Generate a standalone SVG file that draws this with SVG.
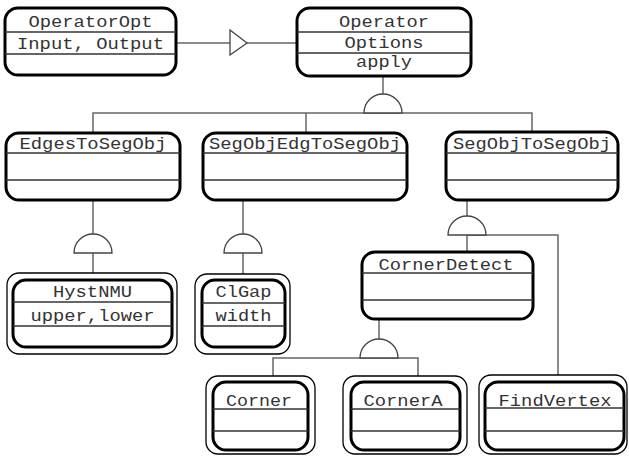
<svg xmlns="http://www.w3.org/2000/svg" width="629" height="456" viewBox="0 0 629 456">
<style>
.box{fill:#fff;stroke:#000;stroke-width:3}
.outer{fill:#fff;stroke:#000;stroke-width:1.3}
.div{stroke:#333;stroke-width:1.3}
.t{font-family:"Liberation Mono","Courier New",monospace;font-size:16.5px;fill:#333;text-anchor:middle}
.c{fill:none;stroke:#666;stroke-width:1.5}
.arc{fill:#fff;stroke:#444;stroke-width:1.3}
</style>
<rect width="629" height="456" fill="#fff"/>
<g id="connectors">
<line class="c" x1="176" y1="43" x2="230" y2="43"/>
<line class="c" x1="247" y1="43" x2="297" y2="43"/>
<polygon class="arc" points="230,30 247,43 230,55"/>
<line class="c" x1="383" y1="76" x2="383" y2="94"/>
<polyline class="c" points="93,133 93,113 532,113 532,132"/>
<line class="c" x1="306" y1="113" x2="306" y2="133"/>
<path class="arc" d="M364,113 A19,19 0 0 1 402,113 Z"/>
<line class="c" x1="93" y1="200" x2="93" y2="235"/>
<line class="c" x1="93" y1="253" x2="93" y2="273"/>
<path class="arc" d="M74,253 A19,19 0 0 1 112,253 Z"/>
<line class="c" x1="243" y1="200" x2="243" y2="235"/>
<line class="c" x1="243" y1="253" x2="243" y2="274"/>
<path class="arc" d="M224,253 A19,19 0 0 1 262,253 Z"/>
<line class="c" x1="467" y1="200" x2="467" y2="216"/>
<polyline class="c" points="467,235 558,235 558,375"/>
<line class="c" x1="467" y1="235" x2="467" y2="252"/>
<path class="arc" d="M448,235 A19,19 0 0 1 486,235 Z"/>
<line class="c" x1="379" y1="319" x2="379" y2="339"/>
<polyline class="c" points="273,376 273,358 418,358 418,376"/>
<path class="arc" d="M360,358 A19,19 0 0 1 398,358 Z"/>
</g>
<g id="OperatorOpt">
<rect class="box" x="5" y="8" width="171" height="67" rx="13"/>
<line class="div" x1="5" y1="32" x2="176" y2="32"/>
<line class="div" x1="5" y1="54" x2="176" y2="54"/>
<text class="t" x="90.5" y="27" textLength="124" lengthAdjust="spacingAndGlyphs">OperatorOpt</text>
<text class="t" x="90.5" y="49" textLength="147" lengthAdjust="spacingAndGlyphs">Input, Output</text>
</g>
<g id="Operator">
<rect class="box" x="297" y="8" width="174" height="68" rx="13"/>
<line class="div" x1="297" y1="32" x2="471" y2="32"/>
<line class="div" x1="297" y1="53" x2="471" y2="53"/>
<text class="t" x="384" y="27" textLength="90" lengthAdjust="spacingAndGlyphs">Operator</text>
<text class="t" x="384" y="48" textLength="79" lengthAdjust="spacingAndGlyphs">Options</text>
<text class="t" x="384" y="67" textLength="56" lengthAdjust="spacingAndGlyphs">apply</text>
</g>
<g id="EdgesToSegObj">
<rect class="box" x="6" y="133" width="174" height="67" rx="13"/>
<line class="div" x1="6" y1="153" x2="180" y2="153"/>
<line class="div" x1="6" y1="180" x2="180" y2="180"/>
<text class="t" x="93" y="149" textLength="147" lengthAdjust="spacingAndGlyphs">EdgesToSegObj</text>
</g>
<g id="SegObjEdgToSegObj">
<rect class="box" x="203" y="133" width="204" height="67" rx="13"/>
<line class="div" x1="203" y1="153" x2="407" y2="153"/>
<line class="div" x1="203" y1="180" x2="407" y2="180"/>
<text class="t" x="305" y="149" textLength="192" lengthAdjust="spacingAndGlyphs">SegObjEdgToSegObj</text>
</g>
<g id="SegObjToSegObj">
<rect class="box" x="446" y="132" width="172" height="68" rx="13"/>
<line class="div" x1="446" y1="153" x2="618" y2="153"/>
<line class="div" x1="446" y1="180" x2="618" y2="180"/>
<text class="t" x="532" y="149" textLength="158" lengthAdjust="spacingAndGlyphs">SegObjToSegObj</text>
</g>
<g id="HystNMU">
<rect class="outer" x="7" y="273" width="170" height="81" rx="12"/>
<rect class="box" x="13" y="280" width="159" height="67" rx="13"/>
<line class="div" x1="13" y1="302" x2="172" y2="302"/>
<line class="div" x1="13" y1="326" x2="172" y2="326"/>
<text class="t" x="92.5" y="297" textLength="79" lengthAdjust="spacingAndGlyphs">HystNMU</text>
<text class="t" x="92.5" y="321" textLength="124" lengthAdjust="spacingAndGlyphs">upper,lower</text>
</g>
<g id="ClGap">
<rect class="outer" x="195" y="274" width="95" height="80" rx="12"/>
<rect class="box" x="202" y="280" width="83" height="67" rx="13"/>
<line class="div" x1="202" y1="303" x2="285" y2="303"/>
<line class="div" x1="202" y1="326" x2="285" y2="326"/>
<text class="t" x="243.5" y="297" textLength="56" lengthAdjust="spacingAndGlyphs">ClGap</text>
<text class="t" x="243.5" y="321" textLength="56" lengthAdjust="spacingAndGlyphs">width</text>
</g>
<g id="CornerDetect">
<rect class="box" x="362" y="252" width="171" height="67" rx="13"/>
<line class="div" x1="362" y1="273" x2="533" y2="273"/>
<line class="div" x1="362" y1="300" x2="533" y2="300"/>
<text class="t" x="446" y="270" textLength="135" lengthAdjust="spacingAndGlyphs">CornerDetect</text>
</g>
<g id="Corner">
<rect class="outer" x="206" y="376" width="109" height="78" rx="12"/>
<rect class="box" x="213" y="382" width="95" height="68" rx="13"/>
<line class="div" x1="213" y1="409" x2="308" y2="409"/>
<line class="div" x1="213" y1="431" x2="308" y2="431"/>
<text class="t" x="259" y="406" textLength="66" lengthAdjust="spacingAndGlyphs">Corner</text>
</g>
<g id="CornerA">
<rect class="outer" x="343" y="376" width="124" height="78" rx="12"/>
<rect class="box" x="351" y="382" width="109" height="68" rx="13"/>
<line class="div" x1="351" y1="409" x2="460" y2="409"/>
<line class="div" x1="351" y1="431" x2="460" y2="431"/>
<text class="t" x="403" y="406" textLength="79" lengthAdjust="spacingAndGlyphs">CornerA</text>
</g>
<g id="FindVertex">
<rect class="outer" x="479" y="375" width="148" height="79" rx="12"/>
<rect class="box" x="485" y="382" width="139" height="68" rx="13"/>
<line class="div" x1="485" y1="408" x2="624" y2="408"/>
<line class="div" x1="485" y1="431" x2="624" y2="431"/>
<text class="t" x="555" y="406" textLength="113" lengthAdjust="spacingAndGlyphs">FindVertex</text>
</g>
</svg>
